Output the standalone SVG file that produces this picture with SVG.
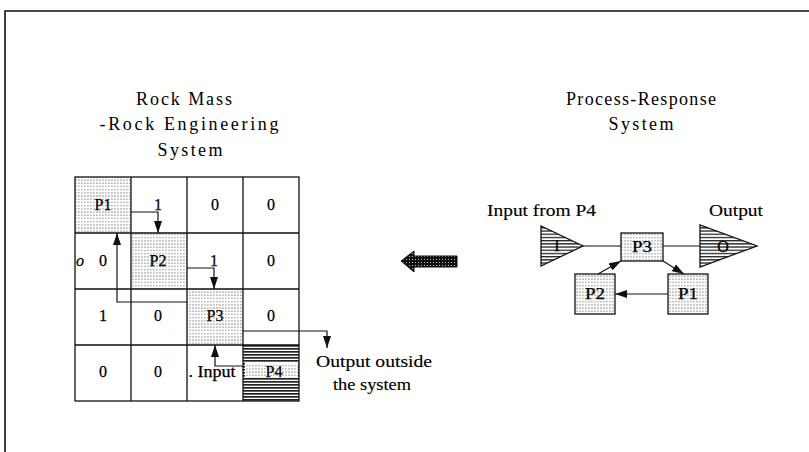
<svg xmlns="http://www.w3.org/2000/svg" width="809" height="452" viewBox="0 0 809 452">
  <style>
    text { font-family: "Liberation Serif", "Times New Roman", serif; fill: #000; }
    .title { font-size: 18px; text-anchor: middle; }
    .cell { font-size: 16px; text-anchor: middle; stroke: #000; stroke-width: 0.25; }
    .lbl { font-size: 16px; stroke: #000; stroke-width: 0.15; }
    .grid { fill: none; stroke: #111; stroke-width: 1.3; }
    .wire { fill: none; stroke: #111; stroke-width: 1.2; }
    .box { stroke: #111; stroke-width: 1.3; }
  </style>
  <defs>
    <!-- light dotted screen used for process cells -->
    <pattern id="dots" width="3" height="3.2" patternUnits="userSpaceOnUse">
      <rect width="3" height="3.2" fill="#fff"/>
      <rect x="0" y="0.4" width="1.8" height="0.9" fill="#8a8a8a"/>
    </pattern>
    <!-- dense horizontal stripes -->
    <pattern id="stripes" width="4" height="3" patternUnits="userSpaceOnUse">
      <rect width="4" height="3" fill="#fff"/>
      <rect x="0" y="0" width="4" height="1.7" fill="#222"/>
    </pattern>
    <!-- lighter horizontal hatch for the input/output triangles -->
    <pattern id="hatch" width="4" height="3.2" patternUnits="userSpaceOnUse">
      <rect width="4" height="3.2" fill="#fff"/>
      <rect x="0" y="0" width="4" height="1.3" fill="#222"/>
    </pattern>
    <!-- dark screen for the transfer arrow -->
    <pattern id="darkdots" width="3" height="3" patternUnits="userSpaceOnUse">
      <rect width="3" height="3" fill="#111"/>
      <rect x="1" y="1" width="1" height="1" fill="#bbb"/>
    </pattern>
    <marker id="head" markerUnits="userSpaceOnUse" markerWidth="12" markerHeight="8" viewBox="0 0 12 8" refX="12" refY="4" orient="auto">
      <path d="M0,0 L12,4 L0,8 z" fill="#111"/>
    </marker>
  </defs>

  <rect width="809" height="452" fill="#fff"/>

  <!-- frame -->
  <path d="M5,452 V11 H809" fill="none" stroke="#111" stroke-width="1.6"/>

  <!-- titles -->
  <g id="title-left">
    <text class="title" x="184" y="105" textLength="96" lengthAdjust="spacing">Rock Mass</text>
    <text class="title" x="189" y="130" textLength="179" lengthAdjust="spacing">-Rock Engineering</text>
    <text class="title" x="190" y="156" textLength="65" lengthAdjust="spacing">System</text>
  </g>
  <g id="title-right">
    <text class="title" x="641" y="105" textLength="150" lengthAdjust="spacing">Process-Response</text>
    <text class="title" x="641" y="130" textLength="65" lengthAdjust="spacing">System</text>
  </g>

  <!-- interaction matrix -->
  <g id="matrix">
    <rect x="75" y="177" width="56" height="56" fill="url(#dots)"/>
    <rect x="131" y="233" width="56" height="56" fill="url(#dots)"/>
    <rect x="187" y="289" width="56" height="56" fill="url(#dots)"/>
    <rect x="243" y="345" width="56" height="56" fill="url(#stripes)"/>
    <rect x="245" y="363" width="53" height="15" fill="url(#dots)"/>
    <rect class="grid" x="75" y="177" width="224" height="224"/>
    <path class="grid" d="M131,177 V401 M187,177 V401 M243,177 V401 M75,233 H299 M75,289 H299 M75,345 H299"/>
  </g>

  <g id="matrix-labels">
    <text class="cell" x="103" y="210">P1</text>
    <text class="cell" x="158" y="210">1</text>
    <text class="cell" x="215" y="210">0</text>
    <text class="cell" x="271" y="210">0</text>

    <text class="cell" x="80" y="266" font-style="italic" font-size="12">o</text>
    <text class="cell" x="103" y="266">0</text>
    <text class="cell" x="158" y="266">P2</text>
    <text class="cell" x="214" y="266">1</text>
    <text class="cell" x="271" y="266">0</text>

    <text class="cell" x="103" y="321">1</text>
    <text class="cell" x="158" y="321">0</text>
    <text class="cell" x="215" y="321">P3</text>
    <text class="cell" x="271" y="321">0</text>

    <text class="cell" x="103" y="377">0</text>
    <text class="cell" x="158" y="377">0</text>
    <text class="cell" x="212" y="377" textLength="47" lengthAdjust="spacingAndGlyphs">. Input</text>
    <text class="cell" x="274" y="377">P4</text>

    <text class="lbl" x="316" y="367" textLength="116" lengthAdjust="spacingAndGlyphs">Output outside</text>
    <text class="lbl" x="333" y="390" textLength="78" lengthAdjust="spacingAndGlyphs">the system</text>
  </g>

  <!-- transfer arrow between the two views -->
  <g id="transfer-arrow">
    <path d="M401,261 L414,251 L414,256 L457,256 L457,267 L414,267 L414,272 Z" fill="url(#darkdots)" stroke="#111" stroke-width="1"/>
  </g>

  <!-- process-response nodes -->
  <g id="node-input">
    <path class="box" d="M541,226 L541,266 L583,246 Z" fill="url(#hatch)"/>
    <text class="cell" x="557" y="251">I</text>
    <text class="lbl" x="487" y="216" textLength="109" lengthAdjust="spacingAndGlyphs">Input from P4</text>
  </g>
  <g id="node-P3">
    <rect class="box" x="621" y="233" width="42" height="28" fill="url(#dots)"/>
    <text class="cell" x="642" y="252" textLength="20" lengthAdjust="spacingAndGlyphs">P3</text>
  </g>
  <g id="node-output">
    <path class="box" d="M700,225 L700,267 L757,246 Z" fill="url(#hatch)"/>
    <text class="cell" x="723" y="252">O</text>
    <text class="lbl" x="709" y="216" textLength="54" lengthAdjust="spacingAndGlyphs">Output</text>
  </g>
  <g id="node-P1">
    <rect class="box" x="668" y="274" width="40" height="40" fill="url(#dots)"/>
    <text class="cell" x="688" y="299" textLength="20" lengthAdjust="spacingAndGlyphs">P1</text>
  </g>
  <g id="node-P2">
    <rect class="box" x="575" y="274" width="40" height="40" fill="url(#dots)"/>
    <text class="cell" x="595" y="299" textLength="20" lengthAdjust="spacingAndGlyphs">P2</text>
  </g>

  <!-- connectors -->
  <g id="connectors">
    <path class="wire" d="M131,212 H158 V233" marker-end="url(#head)"/>
    <path class="wire" d="M187,268 H214 V289" marker-end="url(#head)"/>
    <path class="wire" d="M187,302 H117 V233" marker-end="url(#head)"/>
    <path class="wire" d="M243,331 H327 V348" marker-end="url(#head)"/>
    <path class="wire" d="M243,366 H215 V345" marker-end="url(#head)"/>

    <path class="wire" d="M583,246 H621"/>
    <path class="wire" d="M663,246 H700"/>
    <path class="wire" d="M663,261 L684,274" marker-end="url(#head)"/>
    <path class="wire" d="M668,294 H615" marker-end="url(#head)"/>
    <path class="wire" d="M598,274 L621,261" marker-end="url(#head)"/>
  </g>
</svg>
